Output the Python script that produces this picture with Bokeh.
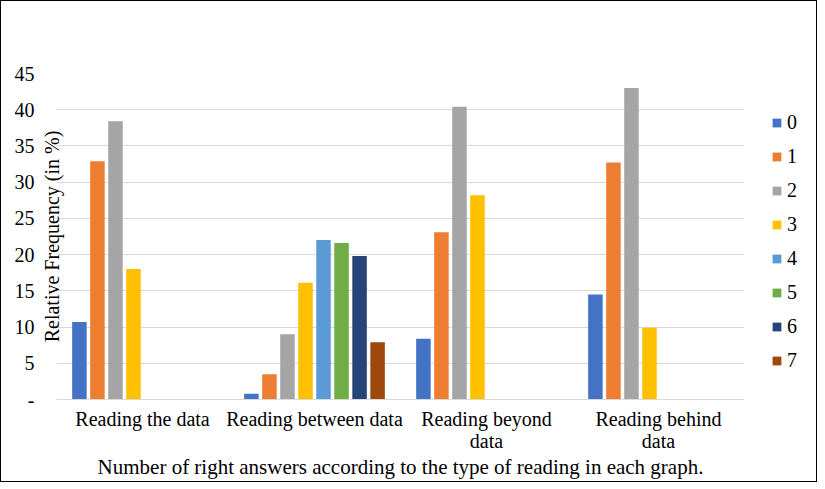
from bokeh.plotting import figure
from bokeh.layouts import row
from bokeh.models import (ColumnDataSource, FactorRange, Range1d, FixedTicker,
                          Legend, LegendItem, LinearAxis)
from bokeh.transform import dodge
from bokeh.embed import file_html
from bokeh.resources import INLINE

categories = ["Reading the data", "Reading between data",
              "Reading beyond\ndata", "Reading behind\ndata"]
series_names = ["0", "1", "2", "3", "4", "5", "6", "7"]

s0 = [10.7, 0.8, 8.4, 14.5]
s1 = [32.9, 3.5, 23.1, 32.7]
s2 = [38.4, 9.0, 40.4, 43.0]
s3 = [18.0, 16.1, 28.2, 9.9]
s4 = [None, 22.0, None, None]
s5 = [None, 21.6, None, None]
s6 = [None, 19.8, None, None]
s7 = [None, 7.9, None, None]
series_values = [s0, s1, s2, s3, s4, s5, s6, s7]

colors = ["#4472C4", "#ED7D31", "#A5A5A5", "#FFC000",
          "#5B9BD5", "#70AD47", "#264478", "#9E480E"]

y_ticks = [0, 5, 10, 15, 20, 25, 30, 35, 40, 45]

FONT = "Liberation Serif"
FS = "20px"
TOP, BOTTOM = 72, 82

# ---------------- main chart ----------------
p = figure(width=743, height=480, output_backend="svg", toolbar_location=None,
           x_range=FactorRange(factors=categories, range_padding=0),
           y_range=Range1d(0, 45), y_axis_location=None)
p.min_border_left = 55
p.min_border_right = 0
p.min_border_top = TOP
p.min_border_bottom = BOTTOM
p.outline_line_color = None
p.background_fill_color = "white"
p.border_fill_color = "white"

step = 0.1048
bw = 0.0844
sources = []
for j, (name, vals) in enumerate(zip(series_names, series_values)):
    xs = [c for c, v in zip(categories, vals) if v is not None]
    ys = [v for v in vals if v is not None]
    src = ColumnDataSource(dict(x=xs, top=ys))
    sources.append(src)
    p.vbar(x=dodge("x", (j - 3.5) * step, range=p.x_range), top="top",
           width=bw, source=src, fill_color=colors[j], line_color=None)

# inner y axis: title only
ytitle_axis = LinearAxis(ticker=FixedTicker(ticks=y_ticks))
ytitle_axis.axis_label = "Relative Frequency (in %)"
ytitle_axis.axis_label_text_font = FONT
ytitle_axis.axis_label_text_font_size = FS
ytitle_axis.axis_label_text_font_style = "normal"
ytitle_axis.axis_label_text_color = "black"
ytitle_axis.axis_label_standoff = -12
ytitle_axis.major_label_overrides = {t: "" for t in y_ticks}
ytitle_axis.major_label_standoff = 0
ytitle_axis.major_tick_line_color = None
ytitle_axis.minor_tick_line_color = None
ytitle_axis.axis_line_color = None
p.add_layout(ytitle_axis, "left")

# outer y axis: tick labels only
ytick_axis = LinearAxis(ticker=FixedTicker(ticks=y_ticks))
ytick_axis.major_label_overrides = {0: "-"}
ytick_axis.major_tick_line_color = None
ytick_axis.minor_tick_line_color = None
ytick_axis.axis_line_color = None
ytick_axis.major_label_standoff = -3
ytick_axis.major_label_text_font = FONT
ytick_axis.major_label_text_font_size = FS
ytick_axis.major_label_text_color = "black"
p.add_layout(ytick_axis, "left")

# x axis
p.xaxis.major_tick_line_color = None
p.xaxis.minor_tick_line_color = None
p.xaxis.axis_line_color = "#d9d9d9"
p.xaxis.major_label_standoff = 2
p.xaxis.major_label_text_line_height = 1.0
p.xaxis.major_label_text_font = FONT
p.xaxis.major_label_text_font_size = FS
p.xaxis.major_label_text_color = "black"
p.xaxis.axis_label = "Number of right answers according to the type of reading in each graph."
p.xaxis.axis_label_text_font = FONT
p.xaxis.axis_label_text_font_size = "21px"
p.xaxis.axis_label_text_font_style = "normal"
p.xaxis.axis_label_text_color = "black"
p.xaxis.axis_label_standoff = 0

p.xgrid.grid_line_color = None
p.ygrid.grid_line_color = "#d9d9d9"
p.ygrid.ticker = FixedTicker(ticks=y_ticks)

# ---------------- legend panel ----------------
q = figure(width=72, height=480, output_backend="svg", toolbar_location=None,
           x_range=FactorRange(factors=categories, range_padding=0),
           y_range=Range1d(0, 45),
           x_axis_location=None, y_axis_location=None)
q.min_border_left = 27
q.min_border_right = 0
q.min_border_top = TOP
q.min_border_bottom = BOTTOM
q.outline_line_color = None
q.grid.grid_line_color = None
q.background_fill_color = "white"
q.border_fill_color = "white"

items = []
for j, name in enumerate(series_names):
    r = q.vbar(x=dodge("x", (j - 3.5) * step, range=q.x_range), top="top",
               width=bw, source=sources[j], fill_color=colors[j],
               line_color=None, visible=False)
    items.append(LegendItem(label=name, renderers=[r]))

legend = Legend(items=items, location="top_left", orientation="vertical")
legend.title = " "
legend.title_text_font = FONT
legend.title_text_font_size = FS
legend.title_standoff = 15
legend.label_text_font = FONT
legend.label_text_font_size = FS
legend.label_text_color = "black"
legend.glyph_width = 11
legend.glyph_height = 11
legend.label_height = 23
legend.spacing = 11
legend.label_standoff = 5
legend.padding = 0
legend.margin = 0
legend.border_line_color = None
legend.background_fill_alpha = 0
legend.inactive_fill_alpha = 0
q.add_layout(legend, "center")

layout = row(p, q)
layout.styles = {"border": "1.5px solid black"}

open("out.html", "w").write(file_html(layout, INLINE))
